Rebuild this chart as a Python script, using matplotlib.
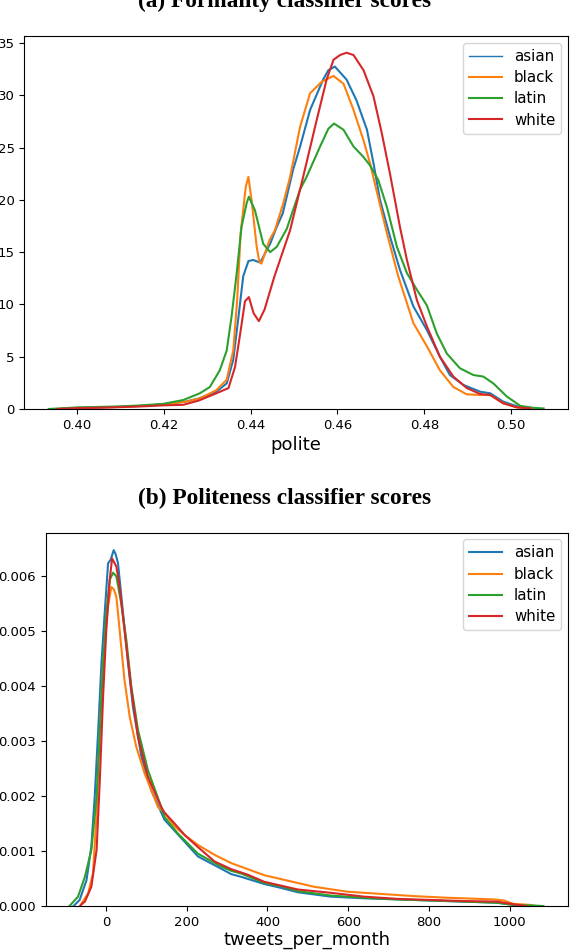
import matplotlib
matplotlib.use("Agg")
import matplotlib.pyplot as plt

# ---------------- data: (a) polite scores ----------------
groups = ["asian", "black", "latin", "white"]
colors = ["#1f77b4", "#ff7f0e", "#2ca02c", "#d62728"]

pol_asian_x = [0.396, 0.400, 0.405, 0.410, 0.415, 0.420, 0.425, 0.428, 0.4321, 0.4345, 0.436, 0.4372, 0.4383,
               0.4395, 0.4406, 0.4422, 0.4445, 0.446, 0.4474, 0.4498, 0.4514, 0.4537, 0.4567, 0.4579, 0.4594,
               0.4621, 0.4644, 0.4668, 0.4683, 0.4698, 0.4721, 0.4744, 0.4775, 0.4806, 0.4836, 0.4859, 0.4890,
               0.4929, 0.4952, 0.4982, 0.5021, 0.5050]
pol_asian_y = [0.0, 0.1, 0.15, 0.2, 0.3, 0.45, 0.7, 1.0, 1.65, 2.45, 4.7, 8.8, 12.7,
               14.15, 14.25, 14.0, 15.8, 17.4, 18.7, 22.9, 25.1, 28.6, 31.5, 32.4, 32.75,
               31.5, 29.5, 26.7, 23.5, 20.0, 16.5, 13.3, 9.8, 7.55, 5.0, 3.25, 2.3,
               1.65, 1.5, 0.7, 0.16, 0.03]

pol_black_x = [0.396, 0.400, 0.405, 0.410, 0.415, 0.420, 0.425, 0.4283, 0.4321, 0.4345, 0.436, 0.4369, 0.4377,
               0.4389, 0.4395, 0.4403, 0.4414, 0.442, 0.4425, 0.4444, 0.4456, 0.4474, 0.4491, 0.4514, 0.4537,
               0.4564, 0.4591, 0.4614, 0.4637, 0.4660, 0.4675, 0.4690, 0.4714, 0.4740, 0.4775, 0.4806, 0.4836,
               0.4867, 0.4898, 0.4929, 0.4952, 0.4982, 0.5013, 0.5050]
pol_black_y = [0.0, 0.1, 0.15, 0.2, 0.3, 0.45, 0.7, 1.0, 1.8, 2.8, 5.6, 10.4, 16.8,
               21.3, 22.2, 19.7, 15.5, 14.1, 13.9, 16.2, 17.1, 19.5, 22.2, 27.0, 30.2,
               31.3, 31.85, 31.1, 28.6, 25.7, 23.5, 20.9, 16.8, 12.7, 8.2, 6.0, 3.7,
               2.1, 1.4, 1.34, 1.34, 0.55, 0.16, 0.03]

pol_latin_x = [0.3935, 0.397, 0.400, 0.405, 0.410, 0.415, 0.420, 0.4245, 0.4283, 0.4306, 0.4329, 0.4345, 0.4356,
               0.4368, 0.4379, 0.4391, 0.4396, 0.4410, 0.4429, 0.4445, 0.4460, 0.4483, 0.4514, 0.4529, 0.4560,
               0.4579, 0.4592, 0.4614, 0.4637, 0.4660, 0.4675, 0.4694, 0.4714, 0.4737, 0.4760, 0.4783, 0.4806,
               0.4829, 0.4852, 0.4882, 0.4913, 0.4936, 0.4959, 0.4990, 0.5021, 0.5050, 0.5075]
pol_latin_y = [0.0, 0.08, 0.15, 0.2, 0.25, 0.35, 0.5, 0.86, 1.5, 2.1, 3.7, 5.6, 8.8,
               13.0, 17.4, 19.7, 20.3, 19.0, 15.8, 15.0, 15.5, 17.2, 21.0, 22.2, 25.1,
               26.8, 27.3, 26.7, 25.1, 24.1, 23.3, 21.9, 19.3, 15.5, 13.0, 11.4, 9.9,
               7.2, 5.3, 3.9, 3.25, 3.1, 2.45, 1.2, 0.3, 0.12, 0.05]

pol_white_x = [0.3955, 0.400, 0.405, 0.410, 0.415, 0.420, 0.4245, 0.428, 0.4321, 0.4349, 0.4364, 0.4376, 0.4387,
               0.4396, 0.4407, 0.4419, 0.4432, 0.4455, 0.4491, 0.4521, 0.4552, 0.4575, 0.4591, 0.4606, 0.4621,
               0.4637, 0.4660, 0.4683, 0.4702, 0.4721, 0.4744, 0.4760, 0.4783, 0.4806, 0.4836, 0.4867, 0.4898,
               0.4929, 0.4952, 0.4982, 0.5013, 0.5044]
pol_white_y = [0.0, 0.08, 0.12, 0.18, 0.25, 0.35, 0.4, 0.8, 1.5, 2.0, 4.0, 7.2, 10.3,
               10.7, 9.15, 8.4, 9.5, 12.7, 17.1, 22.2, 27.6, 31.5, 33.4, 33.85, 34.07,
               33.85, 32.4, 29.9, 26.4, 22.5, 17.4, 14.25, 10.4, 7.9, 5.0, 3.1, 2.0,
               1.43, 1.34, 0.54, 0.16, 0.06]

pol_x_ticks = [0.40, 0.42, 0.44, 0.46, 0.48, 0.50]
pol_y_ticks = [0, 5, 10, 15, 20, 25, 30, 35]

# ---------------- data: (b) tweets_per_month ----------------
tpm_asian_x = [-80, -65, -48, -36, -27.6, -19, -11, -3, 5.4, 12, 19.3, 24, 30, 42.5, 55, 67, 88, 112, 145,
               186, 228, 285, 310, 335, 392, 433, 475, 557, 639, 721, 804, 886, 968, 990, 1009, 1040, 1070]
tpm_asian_y = [0.0, 0.00011, 0.00047, 0.00108, 0.00199, 0.0032, 0.00441, 0.00532, 0.00623, 0.0063, 0.00647,
               0.0064, 0.00623, 0.00532, 0.00441, 0.00362, 0.00271, 0.00211, 0.00157,
               0.00124, 0.0009, 0.00068, 0.00058, 0.00053, 0.0004, 0.00033, 0.00025, 0.00017, 0.00014,
               0.00012, 0.0001, 0.00008, 0.00006, 0.00004, 0.00002, 0.00001, 0.0]

tpm_black_x = [-63, -60, -44, -32, -23, -15, -7, 5, 13.6, 20, 26, 34, 46, 59, 75, 96, 129, 145, 170, 195,
               228, 269, 310, 351, 392, 433, 515, 598, 680, 762, 845, 960, 985, 1009, 1050, 1062]
tpm_black_y = [0.0, 0.00005, 0.00023, 0.00059, 0.00168, 0.0032, 0.00441, 0.00544, 0.0058, 0.00575, 0.00562,
               0.00502, 0.00411, 0.00344, 0.0029, 0.00241, 0.0018, 0.00169, 0.00145, 0.00129,
               0.00111, 0.00093, 0.00078, 0.00067, 0.00056, 0.00049, 0.00035, 0.00026, 0.00022, 0.00018,
               0.00015, 0.00012, 0.0001, 0.00004, 0.00002, 0.0]

tpm_latin_x = [-90, -69, -52, -36, -23, -15, -7, 1, 9.5, 17.7, 26, 38, 50.6, 63, 79.5, 104, 137, 145, 178,
               228, 285, 310, 335, 392, 433, 475, 557, 639, 721, 804, 886, 968, 1009, 1050, 1083]
tpm_latin_y = [0.0, 0.00017, 0.00053, 0.00102, 0.00199, 0.0032, 0.00441, 0.00532, 0.00593, 0.00606, 0.00599,
               0.0055, 0.00484, 0.00399, 0.0032, 0.00247, 0.0018, 0.00162, 0.00132,
               0.00095, 0.00072, 0.00064, 0.00059, 0.00042, 0.00036, 0.00027, 0.00019, 0.00015, 0.00012,
               0.0001, 0.00008, 0.00006, 0.00002, 0.00001, 0.0]

tpm_white_x = [-64, -62, -52, -36, -23, -15, -7, 1, 9.5, 15.3, 26, 34, 46, 63, 79.5, 104, 137, 145, 170,
               195, 228, 269, 310, 351, 392, 475, 557, 639, 721, 804, 886, 968, 1001, 1040]
tpm_white_y = [0.0, 0.00002, 0.00008, 0.00035, 0.00102, 0.00229, 0.0038, 0.00502, 0.00593, 0.00632, 0.00617,
               0.0058, 0.00502, 0.00393, 0.00308, 0.00235, 0.0018, 0.0017, 0.0015,
               0.00129, 0.00107, 0.00081, 0.00067, 0.00057, 0.00044, 0.0003, 0.00024, 0.00017, 0.00013,
               0.00011, 0.00009, 0.00008, 0.00004, 0.0]

tpm_x_ticks = [0, 200, 400, 600, 800, 1000]
tpm_y_ticks = [0.000, 0.001, 0.002, 0.003, 0.004, 0.005, 0.006]

pol_series = [(pol_asian_x, pol_asian_y), (pol_black_x, pol_black_y),
              (pol_latin_x, pol_latin_y), (pol_white_x, pol_white_y)]
tpm_series = [(tpm_asian_x, tpm_asian_y), (tpm_black_x, tpm_black_y),
              (tpm_latin_x, tpm_latin_y), (tpm_white_x, tpm_white_y)]

# ---------------- figure ----------------
W, H = 570, 952
fig = plt.figure(figsize=(W / 100, H / 100), dpi=100)

def box(l, t, r, b):
    return [l / W, 1 - b / H, (r - l) / W, (b - t) / H]

ax1 = fig.add_axes(box(24.4, 36, 568, 409))
ax2 = fig.add_axes(box(45.7, 532.7, 568, 906))

for (xs, ys), name, c in zip(pol_series, groups, colors):
    ax1.plot(xs, ys, color=c, lw=1.5, label=name)
for (xs, ys), name, c in zip(tpm_series, groups, colors):
    ax2.plot(xs, ys, color=c, lw=1.5, label=name)

ax1.set_xlim(0.3879, 0.5131)
ax1.set_ylim(0, 35.67)
ax1.set_xticks(pol_x_ticks)
ax1.set_xticklabels([f"{t:.2f}" for t in pol_x_ticks])
ax1.set_yticks(pol_y_ticks)
ax1.set_xlabel("polite", fontsize=13, labelpad=3)

ax2.set_xlim(-149, 1144)
ax2.set_ylim(0, 0.006787)
ax2.set_xticks(tpm_x_ticks)
ax2.set_yticks(tpm_y_ticks)
ax2.set_yticklabels([f"{t:.3f}" for t in tpm_y_ticks])
ax2.set_xlabel("tweets_per_month", fontsize=13, labelpad=1.5)

for ax in (ax1, ax2):
    ax.tick_params(labelsize=9.5)

leg_kw = dict(loc="upper right", fontsize=10.8, labelspacing=0.42, handlelength=2.2,
              borderaxespad=0.45)
leg1 = ax1.legend(**leg_kw)
leg1.get_lines()[0].set_linewidth(1.0)
ax2.legend(**leg_kw)

title_font = dict(family=["Liberation Serif", "DejaVu Serif"], fontweight="bold", fontsize=16.8)
fig.text(285 / W, 1 - 7 / H, "(a) Formality classifier scores", ha="center", va="baseline", **title_font)
fig.text(285 / W, 1 - 504 / H, "(b) Politeness classifier scores", ha="center", va="baseline", **title_font)

fig.savefig("out.png", dpi=100)
